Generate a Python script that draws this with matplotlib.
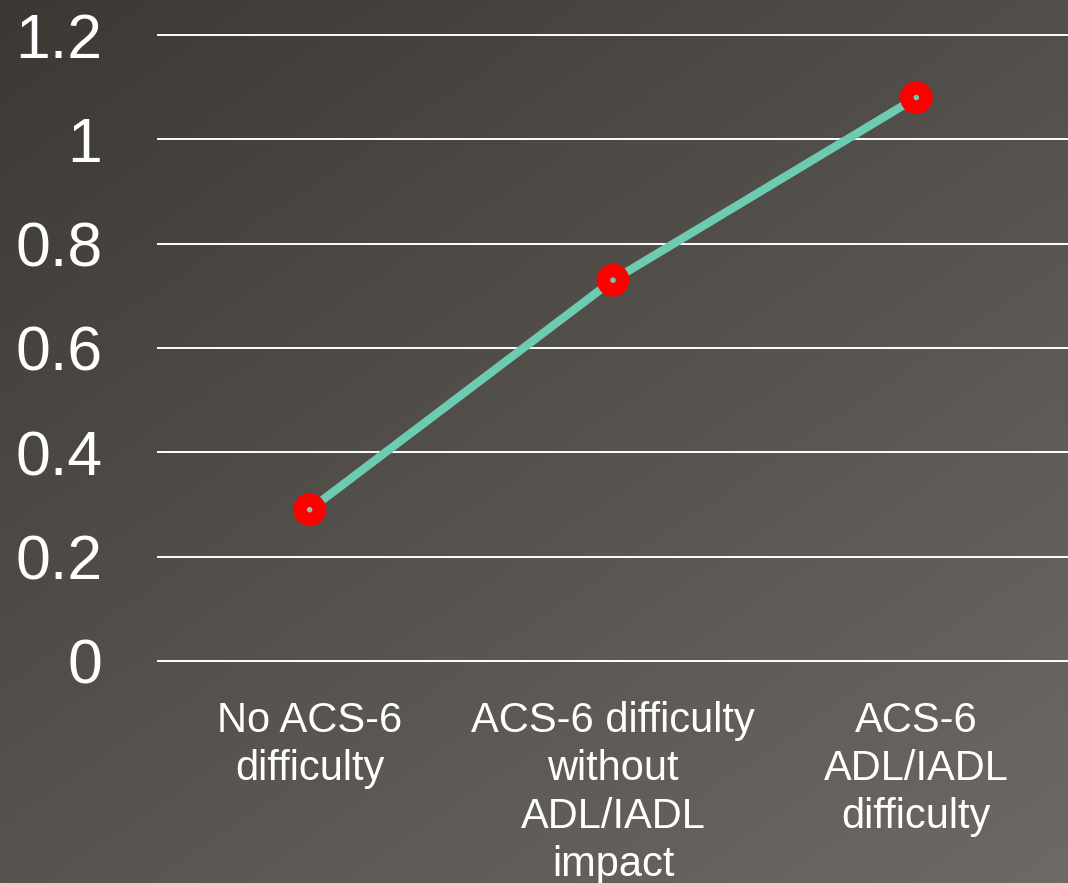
import numpy as np
import matplotlib
matplotlib.use("Agg")
import matplotlib.pyplot as plt
from matplotlib.colors import LinearSegmentedColormap

# Data
categories = ["No ACS-6\ndifficulty",
              "ACS-6 difficulty\nwithout\nADL/IADL\nimpact",
              "ACS-6\nADL/IADL\ndifficulty"]
values = [0.29, 0.73, 1.08]
yticks = [0, 0.2, 0.4, 0.6, 0.8, 1, 1.2]
ytick_labels = ["0", "0.2", "0.4", "0.6", "0.8", "1", "1.2"]

plt.rcParams['font.family'] = ['Liberation Sans', 'DejaVu Sans']

fig = plt.figure(figsize=(10.68, 8.83), dpi=100)

# Diagonal gradient background
bg = fig.add_axes([0, 0, 1, 1])
gx, gy = np.meshgrid(np.linspace(0, 1, 200), np.linspace(0, 1, 200))
grad = 0.45 * gx + 0.55 * gy
cmap = LinearSegmentedColormap.from_list("bg", ["#3c3834", "#6d6964"])
bg.imshow(grad, cmap=cmap, aspect="auto", extent=[0, 1, 0, 1], origin="upper")
bg.axis("off")

ax = fig.add_axes([158 / 1068, 1 - 661 / 883, 1 - 158 / 1068, (661 - 35) / 883])
ax.patch.set_alpha(0)

x = np.arange(len(categories))
ax.plot(x, values, color="#6ccbb0", linewidth=6, zorder=3, solid_capstyle="butt")
ax.scatter(x, values, s=560, color="#ff0000", zorder=4, edgecolors="none")
ax.scatter(x, values, s=16, color="#6ccbb0", zorder=5, edgecolors="none")

ax.set_xlim(-0.5, len(categories) - 0.5)
ax.set_ylim(0, 1.2)
ax.set_yticks(yticks)
ax.set_yticklabels(ytick_labels)
ax.set_xticks(x)
ax.set_xticklabels(categories, linespacing=1.25)

for y in yticks:
    ax.axhline(y, color="white", linewidth=1.4, zorder=1, clip_on=False)

for s in ax.spines.values():
    s.set_visible(False)
ax.tick_params(axis="y", length=0, pad=40, labelsize=45, labelcolor="white")
ax.tick_params(axis="x", length=0, pad=29, labelsize=30, labelcolor="white")

fig.savefig("out.png", dpi=100)
